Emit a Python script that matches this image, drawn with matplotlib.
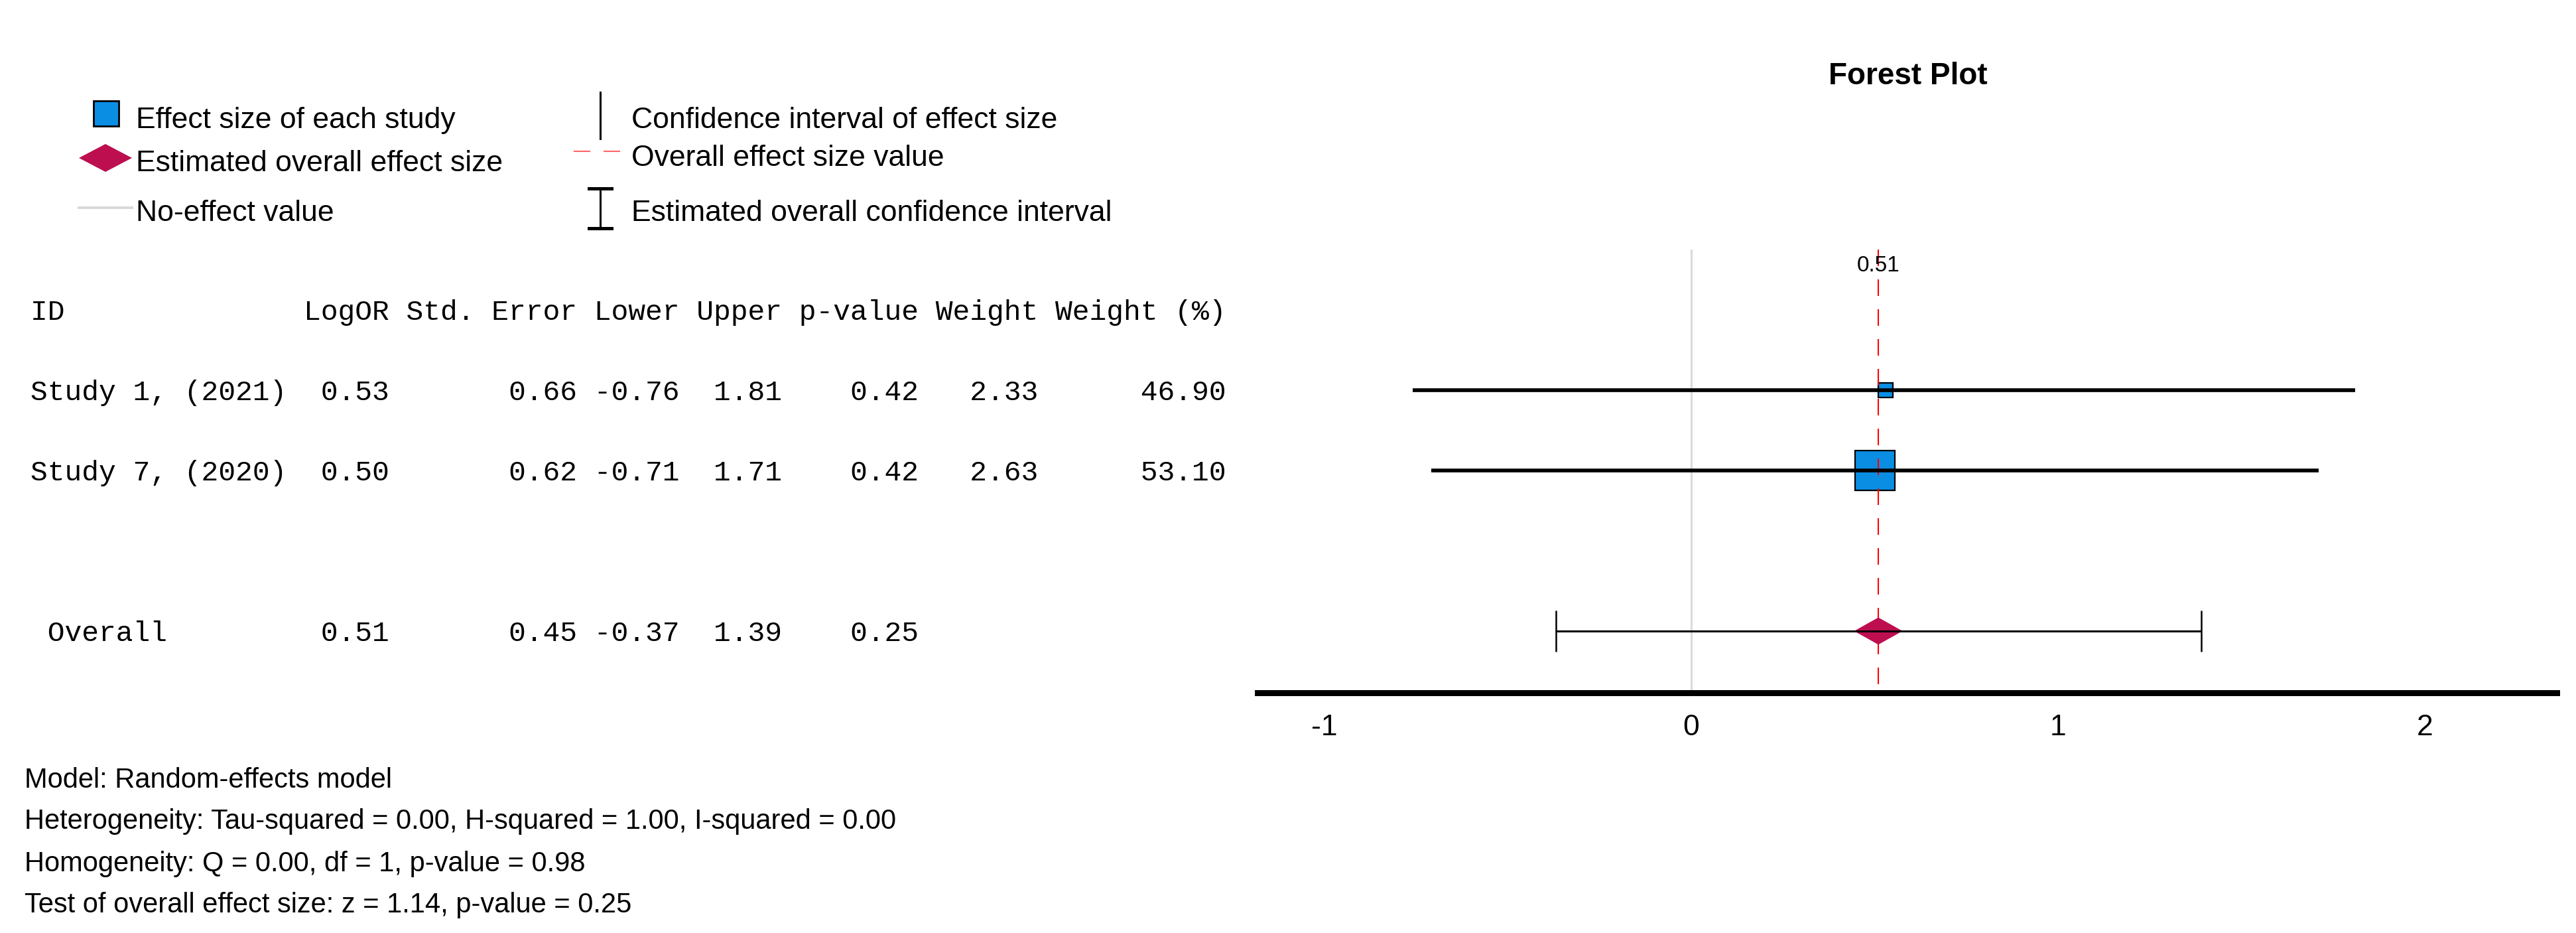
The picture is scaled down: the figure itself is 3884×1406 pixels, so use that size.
import matplotlib
matplotlib.use("Agg")
import matplotlib.pyplot as plt
import matplotlib.transforms as mtransforms
from matplotlib.patches import Polygon

plt.rcParams['font.family'] = ['Liberation Sans', 'DejaVu Sans']

# ---- data ----
study_ids = ["Study 1, (2021)", "Study 7, (2020)"]
log_or = [0.53, 0.50]
std_err = [0.66, 0.62]
lower = [-0.76, -0.71]
upper = [1.81, 1.71]
p_values = [0.42, 0.42]
weights = [2.33, 2.63]
weight_pct = [46.90, 53.10]

overall_label = " Overall"
overall_est = 0.51
overall_se = 0.45
overall_lower = -0.37
overall_upper = 1.39
overall_p = 0.25

header_cols = ["ID", "LogOR", "Std. Error", "Lower", "Upper", "p-value", "Weight", "Weight (%)"]

x_ticks = [-1, 0, 1, 2]
x_tick_labels = ["-1", "0", "1", "2"]

stats_lines = [
    "Model: Random-effects model",
    "Heterogeneity: Tau-squared = 0.00, H-squared = 1.00, I-squared = 0.00",
    "Homogeneity: Q = 0.00, df = 1, p-value = 0.98",
    "Test of overall effect size: z = 1.14, p-value = 0.25",
]

legend_left = ["Effect size of each study", "Estimated overall effect size", "No-effect value"]
legend_right = ["Confidence interval of effect size", "Overall effect size value",
                "Estimated overall confidence interval"]

# ---- layout / style ----
W, H = 3884, 1406
DPI = 100
BLUE = "#0A8EE4"
CRIMSON = "#BD0F50"
GREY = "#DADADA"
col_widths = [15, 5, 10, 5, 5, 7, 6, 10]
study_y = [4, 3]
overall_y = 1
header_y = 5
square_pt = [16, 43]      # marker size for each study square
DASH = (0, (12, 9.6))

def px(v):
    # pixels -> points
    return v * 72.0 / DPI

def fmt_row(cells):
    parts = [cells[0].ljust(col_widths[0])]
    for c, w in zip(cells[1:], col_widths[1:]):
        parts.append(c.rjust(w))
    return " ".join(parts)

fig = plt.figure(figsize=(W / DPI, H / DPI), dpi=DPI)

# overlay axes in pixel coords for the hand drawn legend
lg = fig.add_axes([0, 0, 1, 1])
lg.set_xlim(0, W)
lg.set_ylim(H, 0)
lg.axis("off")

# forest plot axes
ax = fig.add_axes([1896 / W, 1 - 1044 / H, (3855 - 1896) / W, (1044 - 376) / H])
ax.set_xlim(-1.183, 2.36)
ax.set_ylim(0.231, 5.752)
ax.set_facecolor("none")
for s in ["top", "right", "left"]:
    ax.spines[s].set_visible(False)
ax.spines["bottom"].set_linewidth(px(9))
ax.set_yticks([])
ax.set_xticks(x_ticks, x_tick_labels)
ax.tick_params(axis="x", length=0, labelsize=32, pad=23)

ytop, ybot = ax.get_ylim()[1], ax.get_ylim()[0]

# no-effect line and overall effect line
ax.plot([0, 0], [ytop, ybot], color=GREY, lw=px(3), zorder=1)
ax.plot([overall_est, overall_est], [ytop, ybot], color="red", lw=1.5,
        linestyle=DASH, zorder=3)
ax.text(overall_est, 5.55, f"{overall_est:.2f}", ha="center", va="center", fontsize=24)

# studies
for i in range(len(study_ids)):
    ax.plot([log_or[i]], [study_y[i]], marker="s", ms=square_pt[i], mfc=BLUE,
            mec="black", mew=1.6, zorder=2, ls="none")
ax.hlines(study_y, lower, upper, color="black", lw=px(5.7), zorder=5)

# overall estimate
hw, hh = 0.066, 0.169
ax.add_patch(Polygon([[overall_est - hw, overall_y], [overall_est, overall_y + hh],
                      [overall_est + hw, overall_y], [overall_est, overall_y - hh]],
                     closed=True, facecolor=CRIMSON, edgecolor="none", zorder=4))
ax.errorbar([overall_est], [overall_y],
            xerr=[[overall_est - overall_lower], [overall_upper - overall_est]],
            fmt="none", ecolor="black", elinewidth=px(3), capsize=px(31),
            capthick=px(2.5), zorder=5)

# table text, rows tied to the plot rows
tr = mtransforms.blended_transform_factory(fig.transFigure, ax.transData)
tr = mtransforms.offset_copy(tr, fig=fig, x=0, y=-15, units="dots")
mono = dict(family=["Liberation Mono", "DejaVu Sans Mono"], fontsize=31,
            ha="left", va="baseline", transform=tr)
fig.text(46 / W, header_y, fmt_row(header_cols), **mono)
for i in range(len(study_ids)):
    cells = [study_ids[i], f"{log_or[i]:.2f}", f"{std_err[i]:.2f}", f"{lower[i]:.2f}",
             f"{upper[i]:.2f}", f"{p_values[i]:.2f}", f"{weights[i]:.2f}",
             f"{weight_pct[i]:.2f}"]
    fig.text(46 / W, study_y[i], fmt_row(cells), **mono)
cells = [overall_label, f"{overall_est:.2f}", f"{overall_se:.2f}", f"{overall_lower:.2f}",
         f"{overall_upper:.2f}", f"{overall_p:.2f}", "", ""]
fig.text(46 / W, overall_y, fmt_row(cells), **mono)

# title
fig.text(2877 / W, 1 - 127 / H, "Forest Plot", ha="center", va="baseline",
         fontsize=33, fontweight="bold")

# stats text
for line, base in zip(stats_lines, [1187, 1249, 1313, 1375]):
    fig.text(37 / W, 1 - base / H, line, ha="left", va="baseline", fontsize=30)

# legend
lg.plot([160], [171], marker="s", ms=28, mfc=BLUE, mec="black", mew=2)
lg.add_patch(Polygon([[119, 238], [159, 217], [199, 238], [159, 259]],
                     closed=True, facecolor=CRIMSON, edgecolor="none"))
lg.plot([119, 199], [313, 313], color=GREY, lw=px(4))
lg.plot([905, 905], [139, 209], color="black", lw=px(3))
lg.plot([865, 937], [228, 228], color="red", lw=1.5, linestyle=DASH, alpha=0.6)
lg.plot([905, 905], [283, 345], color="black", lw=px(3))
lg.plot([888, 922], [284, 284], color="black", lw=px(5))
lg.plot([888, 922], [344, 344], color="black", lw=px(5))
for txt, base in zip(legend_left, [193, 258, 333]):
    lg.text(205, base, txt, ha="left", va="baseline", fontsize=32)
for txt, base in zip(legend_right, [193, 250, 333]):
    lg.text(952, base, txt, ha="left", va="baseline", fontsize=32)

fig.savefig("out.png", dpi=DPI)
